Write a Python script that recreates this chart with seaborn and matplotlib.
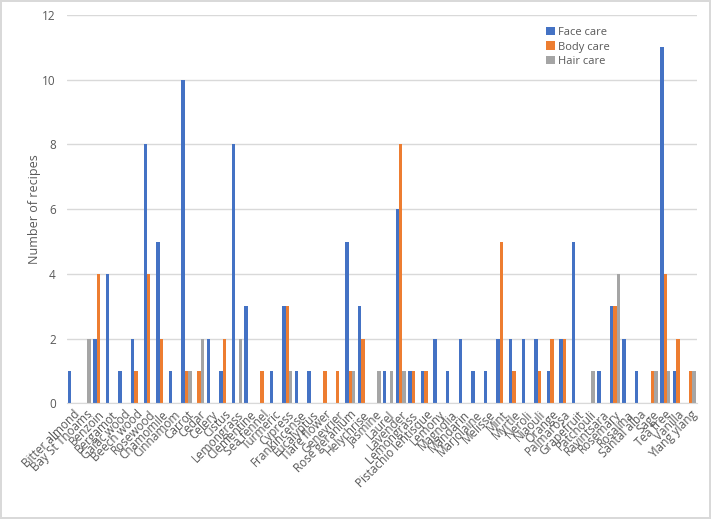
import pandas as pd
import matplotlib.pyplot as plt
import seaborn as sns

# Datos
oils = ['Bitter almond', 'Bay St Thoams', 'Benzoin', 'Bergamot', 'Gaïac wood',
        'Beech wood', 'Rosewood', 'Chamomile', 'Cinnamom', 'Carrot', 'Cedar',
        'Celery', 'Cistus', 'Lemongrass', 'Clementine', 'Sea fennel', 'Turmeric',
        'Cypress', 'Frankincense', 'Eucalyptus', 'Tiare flower', 'Genevrier',
        'Rose geranium', 'Helychrise', 'Jasmine', 'Laurel', 'Lavender',
        'Lemongrass ', 'Pistachio lentisque', 'Lemony', 'Magnolia', 'Mandarin',
        'Marjolaine', 'Melisse', 'Mint', 'Myrtle', 'Neroli', 'Niaouli', 'Orange',
        'Palmarosa', 'Grapefruit', 'Patchouli', 'Ravintsara', 'Rosemary',
        'Rosalina', 'Santal alba', 'Sage', 'Tea tree', 'Vanilla', 'Ylang ylang']

face_care = [1, 0, 2, 4, 1, 2, 8, 5, 1, 10, 0, 2, 1, 8, 3, 0, 1, 3, 1, 1, 0, 0,
             5, 3, 0, 1, 6, 1, 1, 2, 1, 2, 1, 1, 2, 2, 2, 2, 1, 2, 5, 0, 1, 3,
             2, 1, 0, 11, 1, 0]
body_care = [0, 0, 4, 0, 0, 1, 4, 2, 0, 1, 1, 0, 2, 0, 0, 1, 0, 3, 0, 0, 1, 1,
             1, 2, 0, 0, 8, 1, 1, 0, 0, 0, 0, 0, 5, 1, 0, 1, 2, 2, 0, 0, 0, 3,
             0, 0, 1, 4, 2, 1]
hair_care = [0, 2, 0, 0, 0, 0, 0, 0, 0, 1, 2, 0, 0, 2, 0, 0, 0, 1, 0, 0, 0, 0,
             1, 0, 1, 1, 1, 0, 0, 0, 0, 0, 0, 0, 0, 0, 0, 0, 0, 0, 0, 1, 0, 4,
             0, 0, 1, 1, 0, 1]

series = ['Face care', 'Body care', 'Hair care']
colors = ['#4472C4', '#ED7D31', '#A5A5A5']

# Tabla en formato largo para seaborn
data = pd.DataFrame({
    'Oil': oils * 3,
    'Use': [s for s in series for _ in oils],
    'Recipes': face_care + body_care + hair_care,
})

sns.set_style('white')
plt.rcParams['font.family'] = ['Open Sans', 'DejaVu Sans']

fig = plt.figure(figsize=(7.11, 5.19), dpi=100)
ax = fig.add_axes([0.094, 0.223, 0.886, 0.748])

sns.barplot(data=data, x='Oil', y='Recipes', hue='Use', hue_order=series,
            palette=colors, width=0.8, linewidth=0, saturation=1, ax=ax,
            legend=True)

ax.set_ylim(0, 12)
ax.set_yticks(range(0, 13, 2))
ax.set_xlim(-0.5, len(oils) - 0.5)
ax.grid(axis='y', color='#D9D9D9', linewidth=1)
ax.set_axisbelow(True)
for side in ['top', 'right', 'left']:
    ax.spines[side].set_visible(False)
ax.spines['bottom'].set_color('#D9D9D9')
ax.tick_params(axis='both', length=0, colors='#595959', labelsize=8.5)
ax.tick_params(axis='y', pad=8)
plt.setp(ax.get_xticklabels(), rotation=45, ha='right', rotation_mode='anchor')

ax.set_xlabel('')
ax.set_ylabel('Number of recipes', fontsize=9, color='#595959', labelpad=1)

leg = ax.legend(loc='upper left', bbox_to_anchor=(0.745, 0.995), frameon=False,
                fontsize=8, handlelength=0.8, handleheight=0.8,
                handletextpad=0.3, labelspacing=0.3)
for t in leg.get_texts():
    t.set_color('#595959')

fig.patch.set_edgecolor('#D9D9D9')
fig.patch.set_linewidth(1.5)

plt.savefig('out.png', dpi=100, edgecolor=fig.get_edgecolor())
